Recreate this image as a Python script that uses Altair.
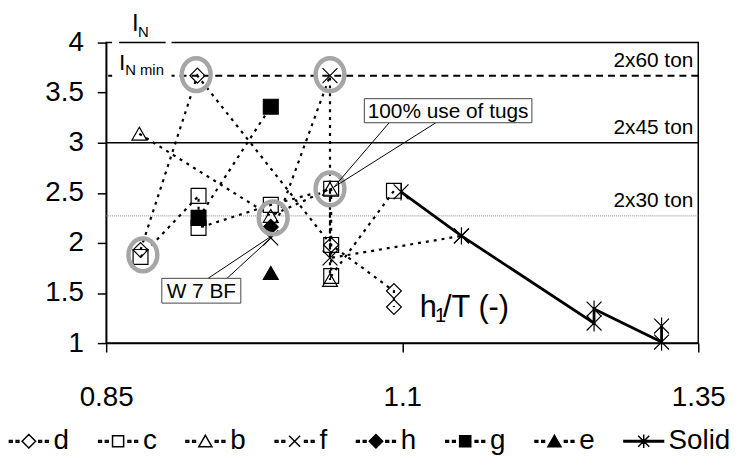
import altair as alt
import pandas as pd

FONT = "Liberation Sans"

series_names = ["d", "c", "b", "f", "h", "g", "e", "Solid"]

d_x = [0.879, 0.927, 1.040, 1.093, 1.093]
d_y = [1.93, 3.67, 1.98, 1.52, 1.36]
c_x = [0.879, 0.928, 0.928, 0.989, 1.040, 1.040, 1.040, 1.093]
c_y = [1.86, 2.47, 2.15, 2.38, 2.54, 1.98, 1.67, 2.52]
b_x = [0.878, 0.989, 1.039, 1.039]
b_y = [3.09, 2.27, 2.54, 1.63]
f_x = [0.989, 1.039, 1.039, 1.150]
f_y = [2.05, 3.67, 1.85, 2.07]
h_x = [0.989]
h_y = [2.16]
g_x = [0.928, 0.989]
g_y = [2.25, 3.36]
e_x = [0.989]
e_y = [1.70]
solid_x = [1.099, 1.150, 1.262, 1.262, 1.319, 1.319]
solid_y = [2.51, 2.07, 1.20, 1.34, 1.01, 1.17]

ref_y = [3.67, 3.0, 2.27]
ref_labels = ["2x60 ton", "2x45 ton", "2x30 ton"]
ref_label_x = [1.35, 1.35, 1.35]

highlight_x = [0.881, 0.926, 0.991, 1.039, 1.039]
highlight_y = [1.88, 3.68, 2.25, 3.68, 2.54]

x_ticks = [0.85, 1.1, 1.35]
y_ticks = [1, 1.5, 2, 2.5, 3, 3.5, 4]

callout_text = ["100% use of tugs", "W 7 BF"]
callout_x = [1.068, 0.897]
callout_x2 = [1.2095, 0.9637]
callout_y = [3.44, 1.6465]
callout_y2 = [3.20, 1.399]
pointer_x = [1.089, 1.1284, 0.9361, 0.952]
pointer_y = [3.20, 3.20, 1.6465, 1.6465]
pointer_x2 = [1.0423, 1.0423, 0.9888, 0.9900]
pointer_y2 = [2.557, 2.557, 2.062, 2.058]

frac_text = ["I", "N", "I", "N min"]
frac_x = [0.8718, 0.8768, 0.8609, 0.8660]
frac_y = [4.112, 4.052, 3.73, 3.675]
frac_fs = [24, 15, 23, 15]
frac_bar_x = [0.8609]
frac_bar_x2 = [0.9002]
frac_bar_y = [4.0]
cover_x = [0.855]
cover_x2 = [0.9052]
cover_y = [3.637]
cover_y2 = [4.033]

xlabel_text = ["h", "1", "/T (-)"]
xlabel_x = [1.1147, 1.1277, 1.1345]
xlabel_y = [1.26, 1.21, 1.26]
xlabel_fs = [31, 20, 31]

# ---------------- data frames ----------------
rows = []
for name, xs, ys in [("d", d_x, d_y), ("c", c_x, c_y), ("b", b_x, b_y),
                     ("f", f_x, f_y), ("h", h_x, h_y), ("g", g_x, g_y),
                     ("e", e_x, e_y), ("Solid", solid_x, solid_y)]:
    for i, (xv, yv) in enumerate(zip(xs, ys)):
        rows.append({"series": name, "x": xv, "y": yv, "ord": i})
pts = pd.DataFrame(rows)

refs = pd.DataFrame({"y": ref_y, "label": ref_labels, "x": ref_label_x})
hl = pd.DataFrame({"x": highlight_x, "y": highlight_y})
boxes = pd.DataFrame({"x": callout_x, "x2": callout_x2, "y": callout_y,
                      "y2": callout_y2, "text": callout_text})
boxes["cx"] = (boxes["x"] + boxes["x2"]) / 2
boxes["cy"] = (boxes["y"] + boxes["y2"]) / 2 - 0.075
ptrs = pd.DataFrame({"x": pointer_x, "y": pointer_y, "x2": pointer_x2, "y2": pointer_y2})
frac = pd.DataFrame({"x": frac_x, "y": frac_y, "text": frac_text, "fs": frac_fs})
bar = pd.DataFrame({"x": frac_bar_x, "x2": frac_bar_x2, "y": frac_bar_y})
cover = pd.DataFrame({"x": cover_x, "x2": cover_x2, "y": cover_y, "y2": cover_y2})
xlab = pd.DataFrame({"x": xlabel_x, "y": xlabel_y, "text": xlabel_text, "fs": xlabel_fs})

# ---------------- scales & axes ----------------
x_scale = alt.Scale(domain=[0.85, 1.35], nice=False, zero=False)
y_scale = alt.Scale(domain=[1, 4], nice=False, zero=False)
common_axis = dict(title=None, grid=False, tickSize=9, tickWidth=1.5, tickColor="black",
                   domainColor="black", domainWidth=1.5, labelFont=FONT, labelFontSize=28,
                   labelColor="black", labelOverlap=False, labelExpr="'' + datum.value")
x_axis = alt.Axis(values=x_ticks, labelPadding=32, labelFlush=False, **common_axis)
y_axis = alt.Axis(values=y_ticks, labelPadding=14, **common_axis)

X = alt.X("x:Q", scale=x_scale, axis=x_axis)
Y = alt.Y("y:Q", scale=y_scale, axis=y_axis)

plain_shapes = ["diamond", "square", "triangle-up", "M-1,-1L1,1M-1,1L1,-1",
                "diamond", "square", "triangle-up",
                "M-1,-1L1,1M-1,1L1,-1M0,-1.15L0,1.15"]
fills = ["transparent", "transparent", "transparent", "transparent",
         "black", "black", "black", "transparent"]
strokes = ["black"] * 8
sizes = [225, 225, 256, 200, 290, 280, 256, 225]

dashes = ("M-0.98,-0.045H-0.84V0.045H-0.98Z M-0.64,-0.045H-0.5V0.045H-0.64Z "
          "M0.5,-0.045H0.64V0.045H0.5Z M0.84,-0.045H0.98V0.045H0.84Z ")
m_diamond = "M0,-0.34L0.34,0L0,0.34L-0.34,0Z"
m_square = "M-0.28,-0.28H0.28V0.28H-0.28Z"
m_tri = "M0,-0.3L0.33,0.27L-0.33,0.27Z"
m_x = "M-0.28,-0.28L0.28,0.28M-0.28,0.28L0.28,-0.28"
legend_shapes = [dashes + m_diamond, dashes + m_square, dashes + m_tri, dashes + m_x,
                 dashes + m_diamond, dashes + m_square, dashes + m_tri,
                 "M-1,-0.04H1V0.04H-1Z " + m_x + "M0,-0.34V0.34"]

# ---------------- layers ----------------
rule60 = alt.Chart(refs).transform_filter(alt.datum.label == "2x60 ton").mark_rule(
    color="black", strokeWidth=2, strokeDash=[7, 5]).encode(y=Y)
rule45 = alt.Chart(refs).transform_filter(alt.datum.label == "2x45 ton").mark_rule(
    color="black", strokeWidth=1.5).encode(y=Y)
rule30 = alt.Chart(refs).transform_filter(alt.datum.label == "2x30 ton").mark_rule(
    color="#888888", strokeWidth=1, strokeDash=[1, 1]).encode(y=Y)

cover_rect = alt.Chart(cover).mark_rect(color="white").encode(
    x=X, x2="x2:Q", y=Y, y2="y2:Q")
bar_rule = alt.Chart(bar).mark_rule(color="black", strokeWidth=1.5).encode(
    x=X, x2="x2:Q", y=Y)

dotted = alt.Chart(pts).transform_filter(alt.datum.series != "Solid").mark_line(
    color="black", strokeWidth=2.2, strokeDash=[3, 5]).encode(
    x=X, y=Y, detail="series:N", order="ord:Q")
solid = alt.Chart(pts).transform_filter(alt.datum.series == "Solid").mark_line(
    color="black", strokeWidth=2.8).encode(x=X, y=Y, order="ord:Q")

markers = alt.Chart(pts).mark_point(color="black", strokeWidth=1.2, opacity=1).encode(
    x=X, y=Y,
    shape=alt.Shape("series:N", scale=alt.Scale(domain=series_names, range=plain_shapes), legend=None),
    fill=alt.Fill("series:N", scale=alt.Scale(domain=series_names, range=fills), legend=None),
    size=alt.Size("series:N", scale=alt.Scale(domain=series_names, range=sizes), legend=None),
)

ellipse = "M-0.88,0A0.88,1 0 1,0 0.88,0A0.88,1 0 1,0 -0.88,0Z"
highlights = alt.Chart(hl).mark_point(shape=ellipse, size=1089, filled=False,
                                      color="#a6a6a6", strokeWidth=4.5, opacity=1).encode(x=X, y=Y)

pointer_lines = alt.Chart(ptrs).mark_rule(color="black", strokeWidth=1).encode(
    x=X, y=Y, x2="x2:Q", y2="y2:Q")
box_rects = alt.Chart(boxes).mark_rect(fill="white", stroke="#444444", strokeWidth=1).encode(
    x=X, x2="x2:Q", y=Y, y2="y2:Q")
box_text = alt.Chart(boxes).mark_text(font=FONT, fontSize=21, color="black",
                                      align="center", baseline="alphabetic").encode(
    x=alt.X("cx:Q", scale=x_scale, axis=x_axis), y=alt.Y("cy:Q", scale=y_scale, axis=y_axis), text="text:N")

ref_text = alt.Chart(refs).mark_text(font=FONT, fontSize=21, color="black", align="right",
                                     baseline="alphabetic", dx=-5, dy=-9).encode(
    x=X, y=Y, text="label:N")
frac_text_layer = alt.Chart(frac).mark_text(font=FONT, color="black", align="left",
                                            baseline="alphabetic").encode(
    x=X, y=Y, text="text:N", size=alt.Size("fs:Q", scale=None))
xlab_layer = alt.Chart(xlab).mark_text(font=FONT, color="black", align="left",
                                       baseline="alphabetic").encode(
    x=X, y=Y, text="text:N", size=alt.Size("fs:Q", scale=None))

leg = alt.Legend(orient="none", legendX=-99, legendY=381, direction="horizontal", columns=8,
                 title=None, labelFont=FONT, labelFontSize=28, labelColor="black",
                 symbolSize=1600, symbolStrokeWidth=1.5,
                 columnPadding=26, labelOffset=4, padding=0, symbolOpacity=1)
legend_layer = alt.Chart(pts).transform_filter("false").mark_point(
    color="black", strokeWidth=1.5).encode(
    x=X, y=Y,
    shape=alt.Shape("series:N", scale=alt.Scale(domain=series_names, range=legend_shapes), legend=leg),
    fill=alt.Fill("series:N", scale=alt.Scale(domain=series_names, range=fills), legend=leg),
    stroke=alt.Stroke("series:N", scale=alt.Scale(domain=series_names, range=strokes), legend=leg),
)

chart = alt.layer(
    rule60, rule45, rule30, cover_rect, bar_rule, dotted, solid, markers, highlights,
    pointer_lines, box_rects, box_text, ref_text, frac_text_layer, xlab_layer, legend_layer
).resolve_scale(
    shape="independent", fill="independent", size="independent", stroke="independent"
).properties(
    width=597, height=303,
    autosize=alt.AutoSizeParams(type="none"),
    padding={"left": 99, "top": 33, "right": 33, "bottom": 115},
    background="white",
).configure_view(stroke="black", strokeWidth=1.5)

chart.save("out.html", embed_options={"renderer": "svg", "actions": False})
